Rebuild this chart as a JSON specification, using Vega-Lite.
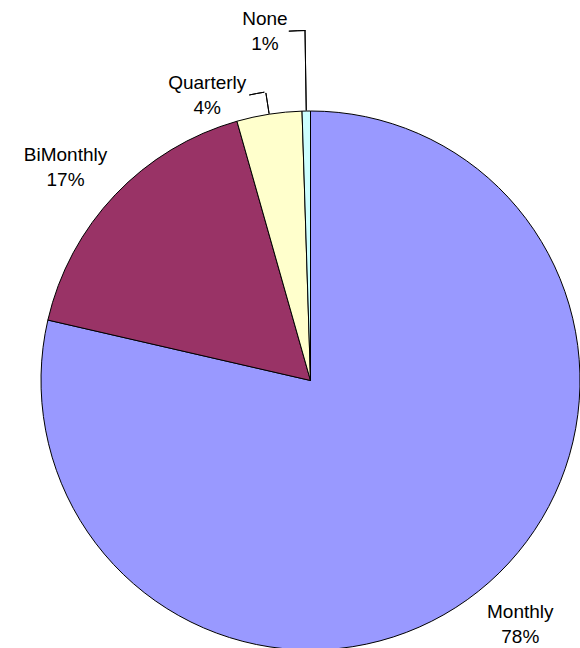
{
  "$schema": "https://vega.github.io/schema/vega-lite/v6.json",
  "width": 539,
  "height": 539,
  "autosize": "none",
  "padding": {"left": 41, "top": 111, "right": 0, "bottom": 0},
  "background": "white",
  "config": {"view": {"stroke": null}},
  "data": {"values": [
    {"category": "Monthly", "value": 78.6, "label": "Monthly\n78%", "rank": 1},
    {"category": "BiMonthly", "value": 17.0, "label": "BiMonthly\n17%", "rank": 2},
    {"category": "Quarterly", "value": 3.9, "label": "Quarterly\n4%", "rank": 3},
    {"category": "None", "value": 0.5, "label": "None\n1%", "rank": 4}
  ]},
  "encoding": {
    "theta": {"field": "value", "type": "quantitative", "stack": true},
    "order": {"field": "rank", "type": "quantitative"}
  },
  "layer": [
    {
      "mark": {"type": "arc", "stroke": "black", "strokeWidth": 1},
      "encoding": {
        "color": {
          "field": "category",
          "type": "nominal",
          "scale": {"domain": ["Monthly", "BiMonthly", "Quarterly", "None"], "range": ["#9999FF", "#993366", "#FFFFCC", "#CCFFFF"]},
          "legend": null
        }
      }
    },
    {
      "mark": {"type": "arc", "radius": 350, "radius2": 270, "padAngle": 0.5, "fillOpacity": 0, "stroke": "black", "strokeWidth": 1},
      "encoding": {
        "strokeOpacity": {"condition": {"test": "datum.category === 'None'", "value": 1}, "value": 0}
      }
    },
    {
      "mark": {"type": "arc", "radius": 291, "radius2": 270, "padAngle": 0.5, "fillOpacity": 0, "stroke": "black", "strokeWidth": 1},
      "encoding": {
        "strokeOpacity": {"condition": {"test": "datum.category === 'Quarterly'", "value": 1}, "value": 0}
      }
    },
    {
      "mark": {"type": "arc", "radius": 350, "radius2": 350, "thetaOffset": 0.1158, "theta2Offset": 0.1158, "padAngle": 0.1395, "fillOpacity": 0, "stroke": "black", "strokeWidth": 1},
      "encoding": {
        "strokeOpacity": {"condition": {"test": "datum.category === 'Quarterly'", "value": 1}, "value": 0}
      }
    },
    {
      "mark": {"type": "arc", "radius": 292, "radius2": 292, "thetaOffset": -0.0311, "theta2Offset": -0.0311, "padAngle": 0.1361, "fillOpacity": 0, "stroke": "black", "strokeWidth": 1},
      "encoding": {
        "strokeOpacity": {"condition": {"test": "datum.category === 'Quarterly'", "value": 1}, "value": 0}
      }
    },
    {
      "mark": {"type": "text", "radius": 316, "dx": 13, "dy": -10, "align": "center", "baseline": "alphabetic", "lineBreak": "\n", "lineHeight": 25, "fontSize": 19, "font": "Liberation Sans", "color": "black"},
      "encoding": {"text": {"condition": {"test": "datum.category === 'Monthly'", "field": "label"}, "value": ""}}
    },
    {
      "mark": {"type": "text", "radius": 316, "dx": -16, "dy": -2, "align": "center", "baseline": "alphabetic", "lineBreak": "\n", "lineHeight": 25, "fontSize": 19, "font": "Liberation Sans", "color": "black"},
      "encoding": {"text": {"condition": {"test": "datum.category === 'BiMonthly'", "field": "label"}, "value": ""}}
    },
    {
      "mark": {"type": "text", "radius": 295, "dx": -58, "dy": 0, "align": "center", "baseline": "alphabetic", "lineBreak": "\n", "lineHeight": 25, "fontSize": 19, "font": "Liberation Sans", "color": "black"},
      "encoding": {"text": {"condition": {"test": "datum.category === 'Quarterly'", "field": "label"}, "value": ""}}
    },
    {
      "mark": {"type": "text", "radius": 356, "dx": -40, "dy": 0, "align": "center", "baseline": "alphabetic", "lineBreak": "\n", "lineHeight": 25, "fontSize": 19, "font": "Liberation Sans", "color": "black"},
      "encoding": {"text": {"condition": {"test": "datum.category === 'None'", "field": "label"}, "value": ""}}
    }
  ]
}
